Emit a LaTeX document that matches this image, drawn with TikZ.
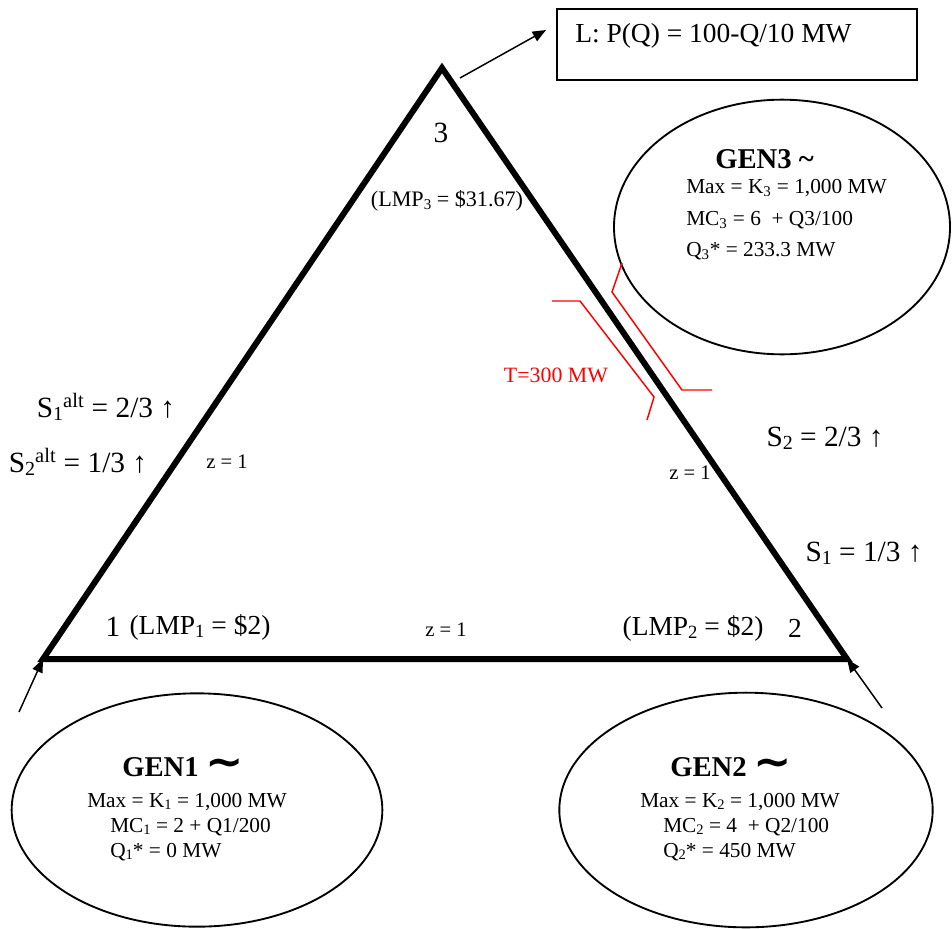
\documentclass[tikz,border=0pt]{standalone}
\usepackage{fontspec}
\usepackage{graphicx}
\setmainfont{Liberation Serif}
\newfontfamily\dejavu{DejaVu Sans}
\usetikzlibrary{shapes.geometric,arrows.meta}
\newcommand\lsub[1]{\raisebox{-0.25ex}{\scalebox{0.68}{#1}}}
\newcommand\fsz[1]{\fontsize{#1}{#1}\selectfont}
\newcommand\swung{\raisebox{-0.05ex}{\dejavu\bfseries\scalebox{1.6}[1.5]{∼}}}
\begin{document}
\begin{tikzpicture}[x=0.75pt,y=-0.75pt,
  edge/.style={line width=4.5pt, line join=miter},
  gen/.style={ellipse, draw, line width=1.4pt, inner sep=0pt},
  arr/.style={line width=1.1pt, -{Triangle[length=10pt,width=8pt]}},
  tline/.style={draw=red, line width=1.1pt},
  lbl/.style={inner sep=0pt},
  sl/.style={lbl, font=\fsz{22pt}},
  lmp/.style={lbl, font=\fsz{20.6pt}},
  small/.style={lbl, font=\fsz{15.5pt}},
  title/.style={lbl, anchor=west, font=\fsz{21.5pt}\bfseries},
  body/.style={lbl, anchor=west, font=\fsz{16pt}},
]
\useasboundingbox (0,0) rectangle (952,928);
% triangle
\coordinate (n3) at (442,68);
\coordinate (n1) at (43,659);
\coordinate (n2) at (847,659);
\draw[edge] (n1) -- (n3) -- (n2) -- cycle;

% load box
\node[draw, line width=1.8pt, minimum width=270pt, minimum height=53pt, inner sep=0pt] (loadbox) at (737,44.5) {};
\node[lbl, anchor=west, font=\fsz{20.6pt}] (loadtext) at (575,36) {L: P(Q) = 100-Q/10 MW};
\coordinate (l3) at (460,78);
\coordinate (lb) at (546,30);
\draw[arr] (l3) -- (lb);

% generators
\node[gen, minimum width=252pt, minimum height=191pt] (g3) at (782,227) {};
\node[gen, minimum width=278pt, minimum height=175pt] (g1) at (197,810) {};
\node[gen, minimum width=280pt, minimum height=176pt] (g2) at (746,810) {};

\node[title] (g3t) at (715,159) {GEN3 \textasciitilde};
\node[body] (g3a) at (686,188) {Max = K\textsubscript{3} = 1,000 MW};
\node[body] (g3b) at (686,220) {MC\textsubscript{3} = 6~ + Q3/100};
\node[body] (g3c) at (686,251) {Q\textsubscript{3}* = 233.3 MW};

\node[title] (g1t) at (122,767) {GEN1 \swung};
\node[body] (g1a) at (87,802) {Max = K\lsub{1} = 1,000 MW};
\node[body] (g1b) at (110,827) {MC\lsub{1} = 2 + Q1/200};
\node[body] (g1c) at (110,852) {Q\lsub{1}* = 0 MW};

\node[title] (g2t) at (670,767) {GEN2 \swung};
\node[body] (g2a) at (640,802) {Max = K\lsub{2} = 1,000 MW};
\node[body] (g2b) at (663,827) {MC\lsub{2} = 4~ + Q2/100};
\node[body] (g2c) at (663,852) {Q\lsub{2}* = 450 MW};

\coordinate (a1) at (19,712);
\coordinate (a2) at (882,708);
\draw[arr] (a1) -- (n1);
\draw[arr] (a2) -- (n2);

% line limit
\draw[tline] (552,301) -- (580,301) -- (654,397) -- (647,420);
\draw[tline] (622,263) -- (612,292) -- (682,390) -- (712,390);
\node[lbl, font=\fsz{16.4pt}, text=red] (tl) at (556,375) {T=300 MW};

% node labels
\node[lbl, font=\fsz{22pt}] (b3) at (441,133) {3};
\node[lbl, font=\fsz{16.6pt}] (lmp3) at (447,201) {(LMP\lsub{3} = \$31.67)};
\node[lbl, font=\fsz{22pt}] (b1) at (113,627) {1};
\node[lmp] (lmp1) at (200,627) {(LMP\lsub{1} = \$2)};
\node[lmp] (lmp2) at (693,628) {(LMP\lsub{2} = \$2)};
\node[lmp] (b2) at (795,628) {2};

\node[small] (z12) at (446,630) {z = 1};
\node[small] (z13) at (227,462) {z = 1};
\node[small] (z23) at (690,473) {z = 1};

\node[sl] (s1alt) at (106,407) {S\lsub{1}\textsuperscript{alt} = 2/3 ↑};
\node[sl] (s2alt) at (78,462) {S\lsub{2}\textsuperscript{alt} = 1/3 ↑};
\node[sl] (s2) at (825,438) {S\lsub{2} = 2/3 ↑};
\node[sl] (s1) at (864,553) {S\lsub{1} = 1/3 ↑};
\end{tikzpicture}
\end{document}
